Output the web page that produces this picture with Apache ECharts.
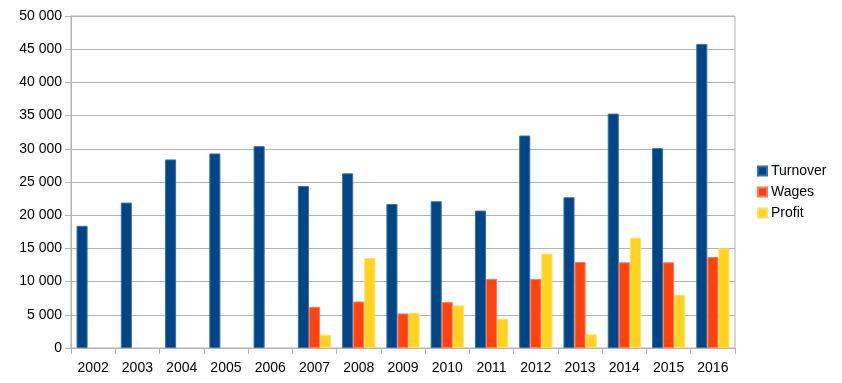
<!DOCTYPE html>
<html><head><meta charset="utf-8">
<script src="https://cdn.jsdelivr.net/npm/echarts@6/dist/echarts.min.js"></script>
<style>html,body{margin:0;padding:0;background:#fff}#c{width:842px;height:383px}</style>
</head><body><div id="c"></div>
<script>
const categories = ['2002','2003','2004','2005','2006','2007','2008','2009','2010','2011','2012','2013','2014','2015','2016'];
const turnover = [18400, 21900, 28400, 29300, 30400, 24400, 26300, 21700, 22100, 20700, 32000, 22700, 35300, 30100, 45800];
const wages    = [null, null, null, null, null, 6200, 7000, 5200, 6900, 10400, 10400, 12950, 12900, 12900, 13700];
const profit   = [null, null, null, null, null, 2000, 13550, 5300, 6400, 4400, 14200, 2050, 16600, 8000, 15000];

const chart = echarts.init(document.getElementById('c'), null, {renderer:'canvas'});
const font = 'Liberation Sans, Arial, sans-serif';
const mk = (name, data, color, border) => ({
  name, type:'bar', data, barGap:'0%', barCategoryGap:'25%',
  itemStyle:{color, borderColor:border, borderWidth:1},
  emphasis:{disabled:true}
});
chart.setOption({
  animation:false,
  textStyle:{fontFamily:font},
  grid:{left:71, right:107, top:16, bottom:35, show:true, borderColor:'#b3b3b3', borderWidth:1, containLabel:false},
  xAxis:{type:'category', data:categories,
    axisLine:{lineStyle:{color:'#b3b3b3'}},
    axisTick:{show:true, length:6, lineStyle:{color:'#b3b3b3'}},
    axisLabel:{color:'#000', fontSize:14, fontFamily:font, margin:13}},
  yAxis:{type:'value', min:0, max:50000, interval:5000,
    axisLine:{show:true, lineStyle:{color:'#b3b3b3'}},
    axisTick:{show:true, length:6, lineStyle:{color:'#b3b3b3'}},
    splitLine:{lineStyle:{color:'#b3b3b3'}},
    axisLabel:{color:'#000', fontSize:14, fontFamily:font, margin:9,
      formatter:v=>String(v).replace(/\B(?=(\d{3})+(?!\d))/g,' ')}},
  legend:{orient:'vertical', left:757, top:164, padding:0, itemWidth:9, itemHeight:9, itemGap:7, icon:'rect',
    textStyle:{color:'#000', fontSize:14, fontFamily:font, padding:[0,0,0,-1]},
    data:['Turnover','Wages','Profit']},
  series:[
    mk('Turnover', turnover, '#004586', '#3a6fa3'),
    mk('Wages', wages, '#ff420e', '#ff7a55'),
    mk('Profit', profit, '#ffd320', '#ffe060')
  ]
});
</script></body></html>
